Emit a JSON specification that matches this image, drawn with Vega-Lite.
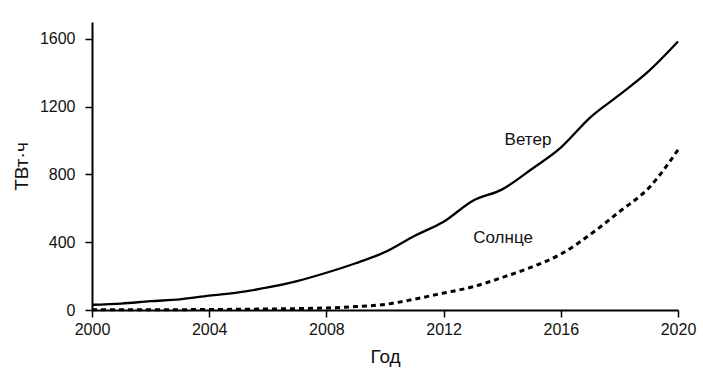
{
  "$schema": "https://vega.github.io/schema/vega-lite/v6.json",
  "width": 586,
  "height": 288,
  "autosize": "none",
  "padding": {"left": 92, "top": 22, "right": 25, "bottom": 75},
  "background": "white",
  "config": {
    "view": {"stroke": null},
    "font": "Liberation Sans",
    "axis": {
      "grid": false,
      "domainColor": "black",
      "domainWidth": 2,
      "tickColor": "black",
      "tickWidth": 1.5,
      "tickSize": 7,
      "labelColor": "#111",
      "labelFontSize": 16,
      "labelFont": "Liberation Sans",
      "titleFont": "Liberation Sans",
      "titleFontSize": 19,
      "titleFontWeight": "normal",
      "titleColor": "#111"
    }
  },
  "datasets": {
    "series": [
      {"year": 2000, "value": 31, "src": "Ветер"},
      {"year": 2001, "value": 38, "src": "Ветер"},
      {"year": 2002, "value": 52, "src": "Ветер"},
      {"year": 2003, "value": 63, "src": "Ветер"},
      {"year": 2004, "value": 85, "src": "Ветер"},
      {"year": 2005, "value": 104, "src": "Ветер"},
      {"year": 2006, "value": 133, "src": "Ветер"},
      {"year": 2007, "value": 171, "src": "Ветер"},
      {"year": 2008, "value": 220, "src": "Ветер"},
      {"year": 2009, "value": 276, "src": "Ветер"},
      {"year": 2010, "value": 342, "src": "Ветер"},
      {"year": 2011, "value": 437, "src": "Ветер"},
      {"year": 2012, "value": 521, "src": "Ветер"},
      {"year": 2013, "value": 645, "src": "Ветер"},
      {"year": 2014, "value": 712, "src": "Ветер"},
      {"year": 2015, "value": 831, "src": "Ветер"},
      {"year": 2016, "value": 959, "src": "Ветер"},
      {"year": 2017, "value": 1136, "src": "Ветер"},
      {"year": 2018, "value": 1270, "src": "Ветер"},
      {"year": 2019, "value": 1410, "src": "Ветер"},
      {"year": 2020, "value": 1585, "src": "Ветер"},
      {"year": 2000, "value": 1, "src": "Солнце"},
      {"year": 2001, "value": 1, "src": "Солнце"},
      {"year": 2002, "value": 2, "src": "Солнце"},
      {"year": 2003, "value": 2, "src": "Солнце"},
      {"year": 2004, "value": 3, "src": "Солнце"},
      {"year": 2005, "value": 4, "src": "Солнце"},
      {"year": 2006, "value": 6, "src": "Солнце"},
      {"year": 2007, "value": 8, "src": "Солнце"},
      {"year": 2008, "value": 12, "src": "Солнце"},
      {"year": 2009, "value": 20, "src": "Солнце"},
      {"year": 2010, "value": 33, "src": "Солнце"},
      {"year": 2011, "value": 64, "src": "Солнце"},
      {"year": 2012, "value": 100, "src": "Солнце"},
      {"year": 2013, "value": 137, "src": "Солнце"},
      {"year": 2014, "value": 192, "src": "Солнце"},
      {"year": 2015, "value": 253, "src": "Солнце"},
      {"year": 2016, "value": 330, "src": "Солнце"},
      {"year": 2017, "value": 445, "src": "Солнце"},
      {"year": 2018, "value": 580, "src": "Солнце"},
      {"year": 2019, "value": 720, "src": "Солнце"},
      {"year": 2020, "value": 945, "src": "Солнце"}
    ],
    "labels": [
      {"year": 2014.88, "value": 1003, "label": "Ветер"},
      {"year": 2014.03, "value": 425, "label": "Солнце"}
    ]
  },
  "layer": [
    {
      "data": {"name": "series"},
      "mark": {"type": "line", "interpolate": "monotone", "color": "black", "strokeWidth": 2.3},
      "transform": [{"filter": "datum.src === 'Ветер'"}],
      "encoding": {
        "x": {
          "field": "year", "type": "quantitative",
          "scale": {"domain": [2000, 2020], "nice": false, "zero": false},
          "axis": {"values": [2000, 2004, 2008, 2012, 2016, 2020], "format": "d", "title": "Год", "labelPadding": 4, "titlePadding": 10, "labelFlush": false}
        },
        "y": {
          "field": "value", "type": "quantitative",
          "scale": {"domain": [0, 1700], "nice": false},
          "axis": {"values": [0, 400, 800, 1200, 1600], "format": "d", "title": "ТВт·ч", "labelPadding": 10, "titlePadding": 8}
        }
      }
    },
    {
      "data": {"name": "series"},
      "mark": {"type": "line", "interpolate": "monotone", "color": "black", "strokeWidth": 3, "strokeDash": [5, 4]},
      "transform": [{"filter": "datum.src === 'Солнце'"}],
      "encoding": {
        "x": {"field": "year", "type": "quantitative"},
        "y": {"field": "value", "type": "quantitative"}
      }
    },
    {
      "data": {"name": "labels"},
      "mark": {"type": "text", "fontSize": 17, "color": "#111", "font": "Liberation Sans"},
      "encoding": {
        "x": {"field": "year", "type": "quantitative"},
        "y": {"field": "value", "type": "quantitative"},
        "text": {"field": "label"}
      }
    }
  ]
}
